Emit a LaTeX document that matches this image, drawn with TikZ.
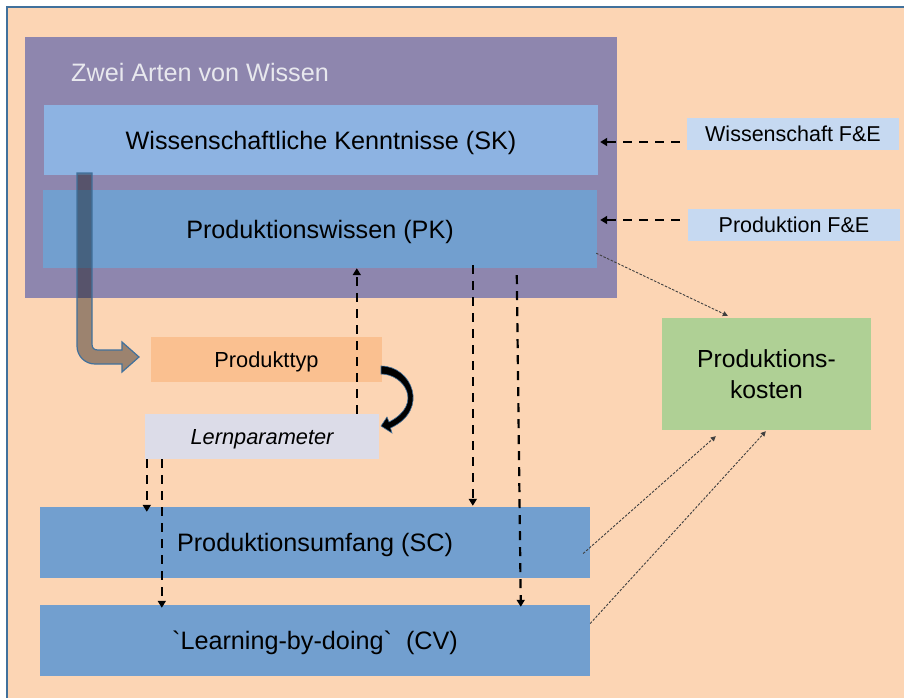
\documentclass[tikz,border=0pt]{standalone}
\usepackage{fontspec}
\newfontfamily\arial{Liberation Sans}
\usetikzlibrary{arrows.meta,calc}
\definecolor{peach}{HTML}{FCD5B4}
\definecolor{framec}{HTML}{41719C}
\definecolor{purp}{HTML}{8E86AE}
\definecolor{skc}{HTML}{8DB3E2}
\definecolor{pkc}{HTML}{729FCF}
\definecolor{fec}{HTML}{C6D9F1}
\definecolor{greenc}{HTML}{AFD095}
\definecolor{orangec}{HTML}{FAC090}
\definecolor{lavc}{HTML}{DCDCE8}
\definecolor{dotc}{HTML}{404040}
\definecolor{titlec}{HTML}{E8E8EE}
\begin{document}
\begin{tikzpicture}[x=1pt,y=-1pt,
  box/.style={rectangle, inner sep=0pt, draw=none, text=black,
    font=\arial\fontsize{25.2}{31}\selectfont, text height=18pt, text depth=0pt},
  smallbox/.style={box, font=\arial\fontsize{21.8}{26}\selectfont, text height=15.6pt},
  febox/.style={box, fill=fec, minimum width=212pt, minimum height=32pt,
    font=\arial\fontsize{21.5}{26}\selectfont, text height=15.4pt},
  dashar/.style={draw=black, line width=2.2pt, dash pattern=on 9pt off 7pt,
    -{Triangle[length=7pt,width=8pt]}},
  dotar/.style={draw=dotc, line width=0.9pt, dash pattern=on 2.5pt off 1.5pt,
    -{Triangle[length=5pt,width=5pt]}}
]
\useasboundingbox (0,0) rectangle (904,698);
\fill[white] (0,0) rectangle (904,698);
\fill[peach] (7,7) rectangle (904,698);
\draw[framec, line width=2pt] (7,698) -- (7,7) -- (904,7);

% container
\node[box, fill=purp, minimum width=592pt, minimum height=261pt] (grp) at (321,167.5) {};
\node[rectangle, inner sep=0pt, anchor=base west, text=titlec,
  font=\arial\fontsize{25.2}{31}\selectfont] (title) at (71,82) {Zwei Arten von Wissen};

\node[box, fill=skc, minimum width=554pt, minimum height=70pt] (sk) at (321,140) {Wissenschaftliche Kenntnisse (SK)};
\node[box, fill=pkc, minimum width=554pt, minimum height=78pt] (pk) at (320,229) {Produktionswissen (PK)};

\node[febox] (wfe) at (793,134) {Wissenschaft F\&E};
\node[febox] (pfe) at (794,225) {Produktion F\&E};

\node[rectangle, inner sep=0pt, fill=greenc, minimum width=209pt, minimum height=112pt, align=center,
  font=\arial\fontsize{24.7}{31}\selectfont] (cost) at (766.5,374) {Produktions-\\kosten};

\node[smallbox, fill=orangec, minimum width=231pt, minimum height=45pt] (pt) at (266.5,359.5) {Produkttyp};
\node[smallbox, fill=lavc, minimum width=234pt, minimum height=45pt] (lp) at (262,436.5) {\itshape Lernparameter};

\node[box, fill=pkc, minimum width=550pt, minimum height=71pt] (sc) at (315,542.5) {Produktionsumfang (SC)};
\node[box, fill=pkc, minimum width=550pt, minimum height=71pt] (cv) at (315,640.5) {`Learning-by-doing`\hspace{14pt}(CV)};

% bent block arrow
\draw[framec, line width=1.2pt, fill=black, fill opacity=0.38]
  (77,173) -- (77,346) .. controls (77,356) and (85,364) .. (95,364)
  -- (122,364) -- (122,372) -- (139,357) -- (122,342) -- (122,350)
  -- (98,350) .. controls (94,350) and (92,348) .. (92,344) -- (92,173) -- cycle;

% curved arrow from Produkttyp to Lernparameter
\draw[framec, line width=0.6pt, fill=black]
  (381,366) .. controls (412,366) and (430,410) .. (390.5,428)
  -- (392,433) -- (381,426) -- (387,417) -- (389,422)
  .. controls (424,404) and (404,374) .. (381,374) -- cycle;

% dashed connectors
\draw[dashar] ($(wfe.west)+(-7,8)$) -- ($(sk.east)+(2,2)$);
\draw[dashar] ($(pfe.west)+(-8,-5)$) -- ($(pk.east)+(3,-9)$);
\draw[dashar] ($(lp.north west)+(212,0)$) coordinate (u1) -- (u1 |- pk.south);
\draw[dashar] ($(pk.south west)+(430,-3)$) coordinate (d1) -- ($(d1 |- sc.north)+(0,-1)$);
\draw[dashar] ($(pk.south west)+(474,7)$) -- ($(cv.north west)+(481,2)$);
\draw[dashar] ($(lp.south west)+(2,0)$) -- ($(sc.north west)+(107,5)$);
\draw[dashar] ($(lp.south west)+(17,0)$) -- ($(cv.north west)+(122,3)$);

% dotted connectors to costs
\draw[dotar] ($(pk.south east)+(-1,-15)$) -- ($(cost.north west)+(66,-2)$);
\draw[dotar] ($(sc.east)+(-7,11)$) -- ($(cost.south west)+(54,6)$);
\draw[dotar] ($(cv.east)+(0,-17)$) -- ($(cost.south west)+(104,1)$);
\end{tikzpicture}
\end{document}
